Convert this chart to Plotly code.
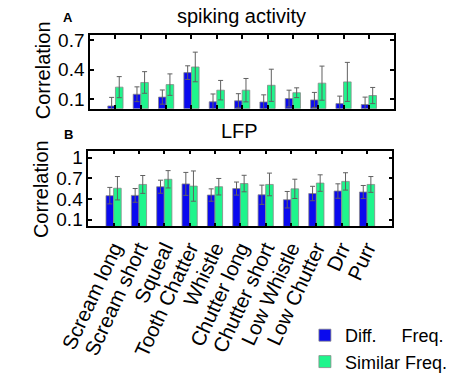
import plotly.graph_objects as go

categories = ["Scream long", "Scream short", "Squeal", "Tooth Chatter", "Whistle",
              "Chutter long", "Chutter short", "Low Whistle", "Low Chutter", "Drr", "Purr"]

spk_diff = [0.028, 0.148, 0.119, 0.370, 0.071, 0.081, 0.069, 0.104, 0.090, 0.052, 0.043]
spk_diff_err = [0.088, 0.076, 0.073, 0.070, 0.080, 0.073, 0.073, 0.086, 0.077, 0.077, 0.076]
spk_sim = [0.221, 0.269, 0.247, 0.428, 0.190, 0.190, 0.240, 0.164, 0.262, 0.275, 0.135]
spk_sim_err = [0.108, 0.111, 0.110, 0.152, 0.100, 0.120, 0.165, 0.050, 0.175, 0.200, 0.083]

lfp_diff = [0.447, 0.451, 0.577, 0.618, 0.456, 0.550, 0.460, 0.388, 0.478, 0.514, 0.500]
lfp_diff_err = [0.120, 0.100, 0.095, 0.167, 0.090, 0.095, 0.140, 0.120, 0.105, 0.105, 0.095]
lfp_sim = [0.555, 0.610, 0.685, 0.586, 0.577, 0.623, 0.610, 0.546, 0.630, 0.654, 0.610]
lfp_sim_err = [0.170, 0.130, 0.126, 0.220, 0.120, 0.120, 0.165, 0.140, 0.120, 0.126, 0.115]

yticks = [0.1, 0.4, 0.7, 1.0]
ytick_text = ["0.1", "0.4", "0.7", "1"]

BLUE = "#0a0aee"
GREEN = "#1ff58c"
FONT = "Liberation Sans, Arial, sans-serif"
W, H = 453, 380

xpos = list(range(1, len(categories) + 1))

fig = go.Figure()

def add_pair(diff, derr, sim, serr, xa, ya, show):
    fig.add_trace(go.Bar(x=xpos, y=diff, name="Diff.\u00a0\u00a0\u00a0\u00a0\u00a0Freq.",
                         marker=dict(color=BLUE, line=dict(color="#888888", width=0.8)),
                         error_y=dict(type="data", array=derr, color="#606060", thickness=1, width=2.5),
                         xaxis=xa, yaxis=ya, showlegend=show, legendgroup="d"))
    fig.add_trace(go.Bar(x=xpos, y=sim, name="Similar Freq.",
                         marker=dict(color=GREEN, line=dict(color="#888888", width=0.8)),
                         error_y=dict(type="data", array=serr, color="#606060", thickness=1, width=2.5),
                         xaxis=xa, yaxis=ya, showlegend=show, legendgroup="s"))

add_pair(spk_diff, spk_diff_err, spk_sim, spk_sim_err, "x", "y", True)
add_pair(lfp_diff, lfp_diff_err, lfp_sim, lfp_sim_err, "x2", "y2", False)

def px_x(p):
    return p / W

def px_y(p):
    return 1 - p / H

axis_common = dict(showline=True, linecolor="black", linewidth=1.5, mirror="ticks",
                   ticks="inside", ticklen=4, tickwidth=1.5, tickcolor="black",
                   showgrid=False, zeroline=False)
yfont = dict(family=FONT, size=19, color="black")
xfont = dict(family=FONT, size=20.5, color="black")

fig.update_layout(
    width=W, height=H,
    margin=dict(l=0, r=0, t=0, b=0),
    paper_bgcolor="white", plot_bgcolor="white",
    barmode="group", bargap=0.4, bargroupgap=0,
    font=dict(family=FONT, color="black"),
    xaxis=dict(domain=[px_x(64.5), px_x(396.5)], range=[0, 12], tickvals=xpos,
               showticklabels=False, anchor="y", tickfont=xfont, **axis_common),
    yaxis=dict(domain=[px_y(111), px_y(32)], range=[0, 0.757], tickvals=yticks[:3],
               ticktext=ytick_text[:3], anchor="x", tickfont=yfont, **axis_common),
    xaxis2=dict(domain=[px_x(62.5), px_x(394.5)], range=[0, 12], tickvals=xpos,
                ticktext=categories, tickangle=-65, anchor="y2", tickfont=xfont, **axis_common),
    yaxis2=dict(domain=[px_y(237), px_y(156)], range=[0, 1.1], tickvals=yticks,
                ticktext=ytick_text, anchor="x2", tickfont=yfont, **axis_common),
    legend=dict(x=px_x(299), y=px_y(334), xanchor="left", yanchor="top",
                font=dict(family=FONT, size=18, color="black"),
                bgcolor="rgba(0,0,0,0)", tracegroupgap=0, traceorder="normal"),
)

annots = [
    dict(text="spiking activity", x=px_x(230), y=px_y(12), size=20, angle=0),
    dict(text="LFP", x=px_x(228), y=px_y(135), size=20, angle=0),
    dict(text="<b>A</b>", x=px_x(40), y=px_y(13), size=13, angle=0),
    dict(text="<b>B</b>", x=px_x(41), y=px_y(139), size=13, angle=0),
    dict(text="Correlation", x=px_x(13), y=px_y(70), size=20, angle=-90),
    dict(text="Correlation", x=px_x(11), y=px_y(197), size=20, angle=-90),
]
for a in annots:
    fig.add_annotation(text=a["text"], x=a["x"], y=a["y"], xref="paper", yref="paper",
                       xanchor="center", yanchor="middle", showarrow=False, textangle=a["angle"],
                       font=dict(family=FONT, size=a["size"], color="black"))

fig.write_html("out.html", config={"displayModeBar": False},
               post_script="document.body.style.margin='0';document.body.style.padding='0';")
